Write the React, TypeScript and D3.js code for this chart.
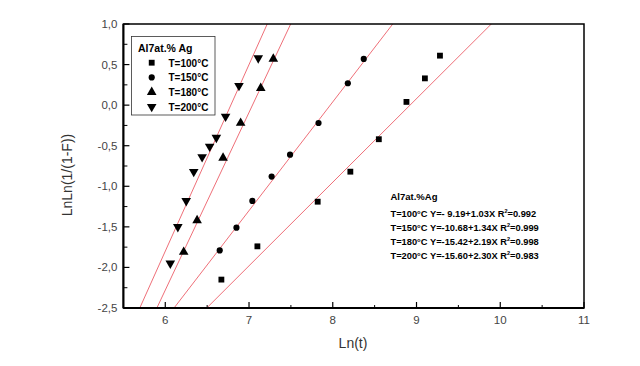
import React, { useEffect, useRef } from "react";
import * as d3 from "d3";

// Ln(t) vs LnLn(1/(1-F))
const t100x = [6.67, 7.1, 7.82, 8.21, 8.55, 8.88, 9.1, 9.28];
const t100y = [-2.15, -1.74, -1.19, -0.82, -0.42, 0.04, 0.33, 0.61];
const t150x = [6.65, 6.85, 7.04, 7.27, 7.49, 7.83, 8.18, 8.37];
const t150y = [-1.79, -1.51, -1.18, -0.88, -0.61, -0.22, 0.27, 0.57];
const t180x = [6.22, 6.38, 6.69, 6.9, 7.14, 7.29];
const t180y = [-1.81, -1.42, -0.65, -0.22, 0.21, 0.57];
const t200x = [6.06, 6.15, 6.25, 6.34, 6.44, 6.53, 6.61, 6.72, 6.88, 7.11];
const t200y = [-1.95, -1.5, -1.18, -0.82, -0.64, -0.51, -0.4, -0.14, 0.24, 0.58];

// linear fits as printed on the chart: Y = a + bX
const fitA = [-9.19, -10.68, -15.42, -15.6];
const fitB = [1.03, 1.34, 2.19, 2.3];

const seriesNames = ["T=100°C", "T=150°C", "T=180°C", "T=200°C"];
const fitLines = [
  "T=100°C Y=- 9.19+1.03X R",
  "T=150°C Y=-10.68+1.34X R",
  "T=180°C Y=-15.42+2.19X R",
  "T=200°C Y=-15.60+2.30X R",
];
const fitR2 = ["=0.992", "=0.999", "=0.998", "=0.983"];

const xTicks = [6, 7, 8, 9, 10, 11];
const yTicks = [1, 0.5, 0, -0.5, -1, -1.5, -2, -2.5];

const FONT = "'Liberation Sans', Arial, sans-serif";

const App = () => {
  const svgRef = useRef(null);

  useEffect(() => {
    const svg = d3.select(svgRef.current);
    svg.selectAll("*").remove();

    const left = 123.4;
    const right = 584;
    const top = 24;
    const bottom = 308;

    const x = d3.scaleLinear().domain([5.5, 11]).range([left, right]);
    const y = d3.scaleLinear().domain([-2.5, 1]).range([bottom, top]);

    svg
      .append("defs")
      .append("clipPath")
      .attr("id", "plot-clip")
      .append("rect")
      .attr("x", left)
      .attr("y", top)
      .attr("width", right - left)
      .attr("height", bottom - top);

    // fit lines
    const lines = svg.append("g").attr("clip-path", "url(#plot-clip)");
    fitA.forEach((a, i) => {
      const b = fitB[i];
      lines
        .append("line")
        .attr("x1", x(5.5))
        .attr("y1", y(a + b * 5.5))
        .attr("x2", x(11))
        .attr("y2", y(a + b * 11))
        .attr("stroke", "#ea4a55")
        .attr("stroke-width", 0.8);
    });

    // markers
    const symbols = [d3.symbolSquare, d3.symbolCircle, d3.symbolTriangle, d3.symbolTriangle];
    const sizes = [34, 30, 40, 40];
    const rotations = [0, 0, 0, 180];
    const drawMarker = (g, cx, cy, i) => {
      g.append("path")
        .attr("d", d3.symbol().type(symbols[i]).size(sizes[i])())
        .attr("transform", `translate(${cx},${cy}) rotate(${rotations[i]})`)
        .attr("fill", "#000");
    };

    const xs = [t100x, t150x, t180x, t200x];
    const ys = [t100y, t150y, t180y, t200y];
    const pts = svg.append("g");
    xs.forEach((arr, i) => {
      arr.forEach((v, j) => drawMarker(pts, x(v), y(ys[i][j]), i));
    });

    // frame
    svg
      .append("rect")
      .attr("x", left)
      .attr("y", top)
      .attr("width", right - left)
      .attr("height", bottom - top)
      .attr("fill", "none")
      .attr("stroke", "#000")
      .attr("stroke-width", 1.5);

    // bottom axis, ticks pointing inward
    const xMinor = d3.range(6.5, 11, 1);
    const xAxis = svg.append("g");
    xTicks.forEach((t) => {
      xAxis
        .append("line")
        .attr("x1", x(t))
        .attr("x2", x(t))
        .attr("y1", bottom)
        .attr("y2", bottom - 6)
        .attr("stroke", "#000")
        .attr("stroke-width", 1.2);
      xAxis
        .append("text")
        .attr("x", x(t))
        .attr("y", bottom + 16)
        .attr("text-anchor", "middle")
        .attr("font-size", 11.5)
        .attr("font-family", FONT)
        .attr("fill", "#444")
        .text(t);
    });
    xMinor.forEach((t) => {
      xAxis
        .append("line")
        .attr("x1", x(t))
        .attr("x2", x(t))
        .attr("y1", bottom)
        .attr("y2", bottom - 3)
        .attr("stroke", "#000")
        .attr("stroke-width", 1);
    });
    xAxis
      .append("line")
      .attr("x1", left)
      .attr("x2", right)
      .attr("y1", bottom)
      .attr("y2", bottom)
      .attr("stroke", "#000")
      .attr("stroke-width", 2);

    // left axis
    const yMinor = d3.range(-2.25, 1, 0.5);
    const yAxis = svg.append("g");
    yTicks.forEach((t) => {
      yAxis
        .append("line")
        .attr("x1", left)
        .attr("x2", left + 6)
        .attr("y1", y(t))
        .attr("y2", y(t))
        .attr("stroke", "#000")
        .attr("stroke-width", 1.2);
      yAxis
        .append("text")
        .attr("x", left - 6)
        .attr("y", y(t) + 4)
        .attr("text-anchor", "end")
        .attr("font-size", 11.5)
        .attr("font-family", FONT)
        .attr("fill", "#444")
        .text(d3.format(".1f")(t).replace(".", ",").replace("−", "-"));
    });
    yMinor.forEach((t) => {
      yAxis
        .append("line")
        .attr("x1", left)
        .attr("x2", left + 4)
        .attr("y1", y(t))
        .attr("y2", y(t))
        .attr("stroke", "#000")
        .attr("stroke-width", 1);
    });
    yAxis
      .append("line")
      .attr("x1", left)
      .attr("x2", left)
      .attr("y1", top)
      .attr("y2", bottom)
      .attr("stroke", "#000")
      .attr("stroke-width", 2);

    // axis titles
    svg
      .append("text")
      .attr("x", 353)
      .attr("y", 348)
      .attr("text-anchor", "middle")
      .attr("font-size", 14)
      .attr("font-family", FONT)
      .attr("fill", "#333")
      .text("Ln(t)");
    svg
      .append("text")
      .attr("transform", "translate(72,175) rotate(-90)")
      .attr("text-anchor", "middle")
      .attr("font-size", 14)
      .attr("font-family", FONT)
      .attr("fill", "#333")
      .text("LnLn(1/(1-F))");

    // legend
    const lg = svg.append("g");
    lg.append("rect")
      .attr("x", 131.5)
      .attr("y", 36.5)
      .attr("width", 83.5)
      .attr("height", 78.5)
      .attr("fill", "#fff")
      .attr("stroke", "#333")
      .attr("stroke-width", 0.8);
    lg.append("text")
      .attr("x", 138)
      .attr("y", 52)
      .attr("font-size", 10.5)
      .attr("font-weight", "bold")
      .attr("font-family", FONT)
      .text("Al7at.% Ag");
    seriesNames.forEach((name, i) => {
      const cy = 62.7 + i * 14.7;
      drawMarker(lg, 151.7, cy, i);
      lg.append("text")
        .attr("x", 168.5)
        .attr("y", cy + 4)
        .attr("font-size", 10)
        .attr("font-weight", "bold")
        .attr("font-family", FONT)
        .text(name);
    });

    // fit equations
    const ann = svg.append("g").attr("font-family", FONT).attr("font-weight", "bold");
    ann
      .append("text")
      .attr("x", 390.5)
      .attr("y", 199.5)
      .attr("font-size", 9.5)
      .text("Al7at.%Ag");
    fitLines.forEach((s, i) => {
      const txt = ann
        .append("text")
        .attr("x", 390.5)
        .attr("y", 216.8 + i * 14.1)
        .attr("font-size", 9.3)
        .text(s);
      txt.append("tspan").attr("dy", -4).attr("font-size", 5.5).text("2");
      txt.append("tspan").attr("dy", 4).text(fitR2[i]);
    });
  }, []);

  return (
    <svg
      ref={svgRef}
      width={640}
      height={366}
      style={{ position: "absolute", left: 0, top: 0, background: "#fff" }}
    />
  );
};

export default App;
